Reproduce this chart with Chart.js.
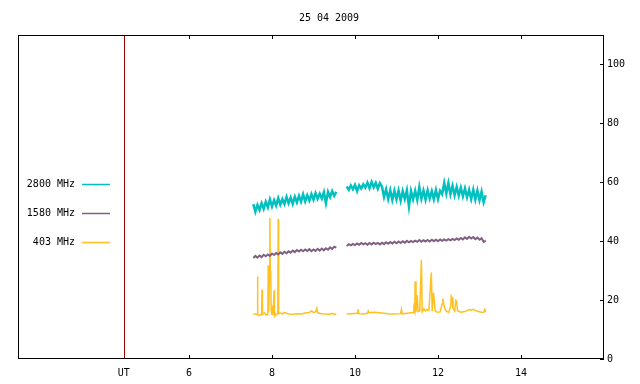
<!DOCTYPE html>
<html>
<head>
<meta charset="utf-8">
<script src="https://cdn.jsdelivr.net/npm/chart.js@4.4.0/dist/chart.umd.min.js"></script>
<style>
  html, body { margin: 0; padding: 0; background: #fff; }
</style>
</head>
<body>
<canvas id="radioChart" width="640" height="384"></canvas>
<script>
// 25 Apr 2009 solar radio flux, three frequencies (UT hours)
const chartTitle = '25 04 2009';
const utMark = 4.43;
const xTicks = [6, 8, 10, 12, 14];
const yTicks = [0, 20, 40, 60, 80, 100];

const timesA = [7.55, 7.60, 7.65, 7.70, 7.75, 7.80, 7.85, 7.90, 7.95, 8.00,
  8.05, 8.10, 8.15, 8.20, 8.25, 8.30, 8.35, 8.40, 8.45, 8.50,
  8.55, 8.60, 8.65, 8.70, 8.75, 8.80, 8.85, 8.90, 8.95, 9.00,
  9.05, 9.10, 9.15, 9.20, 9.25, 9.30, 9.35, 9.40, 9.45, 9.50,
  9.55];
const timesB = [9.80, 9.85, 9.90, 9.95, 10.00, 10.05, 10.10, 10.15, 10.20, 10.25,
  10.30, 10.35, 10.40, 10.45, 10.50, 10.55, 10.60, 10.65, 10.70, 10.75,
  10.80, 10.85, 10.90, 10.95, 11.00, 11.05, 11.10, 11.15, 11.20, 11.25,
  11.30, 11.35, 11.40, 11.45, 11.50, 11.55, 11.60, 11.65, 11.70, 11.75,
  11.80, 11.85, 11.90, 11.95, 12.00, 12.05, 12.10, 12.15, 12.20, 12.25,
  12.30, 12.35, 12.40, 12.45, 12.50, 12.55, 12.60, 12.65, 12.70, 12.75,
  12.80, 12.85, 12.90, 12.95, 13.00, 13.05, 13.10, 13.15];

const flux2800A = [52.6, 50.0, 52.3, 50.6, 52.9, 51.0, 53.4, 51.5, 54.2, 51.8,
  53.9, 52.1, 54.6, 52.4, 54.3, 52.6, 55.0, 52.9, 54.8, 52.7,
  55.1, 53.2, 55.4, 53.4, 55.9, 53.5, 55.6, 53.8, 56.0, 54.1,
  56.3, 54.4, 56.1, 54.5, 56.6, 52.9, 56.7, 55.0, 57.0, 55.4,
  56.8];
const flux2800B = [58.6, 57.4, 58.9, 57.6, 59.1, 57.0, 59.0, 57.9, 59.3, 58.2,
  59.9, 58.0, 60.1, 58.3, 59.8, 57.8, 59.7, 58.6, 55.0, 57.6,
  54.3, 57.3, 54.0, 57.1, 54.2, 57.2, 53.8, 57.0, 54.3, 57.3,
  51.8, 57.0, 54.2, 57.1, 54.0, 58.4, 54.4, 57.2, 54.1, 57.3,
  54.5, 57.0, 54.2, 57.4, 54.3, 57.1, 56.0, 59.8, 56.2, 59.7,
  55.9, 58.8, 55.6, 58.4, 55.5, 58.2, 55.2, 57.9, 54.9, 57.4,
  54.3, 57.5, 54.1, 57.2, 53.9, 56.8, 53.2, 55.6];

const flux1580A = [34.3, 35.0, 34.4, 35.1, 34.6, 35.4, 34.9, 35.5, 35.0, 35.8,
  35.3, 36.0, 35.5, 36.2, 35.7, 36.4, 35.9, 36.6, 36.1, 36.8,
  36.3, 37.0, 36.5, 37.1, 36.6, 37.2, 36.7, 37.3, 36.6, 37.2,
  36.7, 37.4, 36.8, 37.5, 36.9, 37.6, 37.1, 37.9, 37.4, 38.1,
  37.8];
const flux1580B = [38.4, 39.0, 38.6, 39.1, 38.7, 39.2, 38.8, 39.4, 38.9, 39.3,
  38.8, 39.4, 38.9, 39.5, 39.0, 39.4, 38.9, 39.5, 39.0, 39.6,
  39.1, 39.7, 39.2, 39.8, 39.3, 39.9, 39.4, 40.0, 39.5, 40.1,
  39.6, 40.1, 39.7, 40.2, 39.8, 40.4, 39.8, 40.3, 39.9, 40.4,
  39.9, 40.5, 40.0, 40.5, 40.0, 40.6, 40.1, 40.6, 40.2, 40.7,
  40.3, 40.8, 40.4, 40.9, 40.5, 41.1, 40.6, 41.3, 40.8, 41.5,
  40.9, 41.4, 40.7, 41.2, 40.5, 41.0, 39.8, 40.2];

// 403 MHz is spiky, so it has its own sample times (null = data gap)
const times403 = [7.55, 7.62, 7.64, 7.65, 7.66, 7.70, 7.75, 7.76, 7.77, 7.82,
  7.86, 7.90, 7.91, 7.92, 7.94, 7.95, 7.96, 7.97, 7.98, 8.00,
  8.02, 8.03, 8.05, 8.06, 8.10, 8.14, 8.15, 8.16, 8.20, 8.25,
  8.30, 8.35, 8.40, 8.50, 8.60, 8.70, 8.80, 8.90, 8.95, 9.00,
  9.05, 9.08, 9.10, 9.20, 9.30, 9.40, 9.45, 9.50, 9.55, 9.70,
  9.80, 9.90, 10.05, 10.07, 10.09, 10.20, 10.30, 10.32, 10.34, 10.45,
  10.60, 10.80, 10.95, 11.10, 11.12, 11.14, 11.30, 11.40, 11.42, 11.44,
  11.45, 11.47, 11.50, 11.52, 11.56, 11.60, 11.62, 11.66, 11.70, 11.74,
  11.78, 11.84, 11.86, 11.89, 11.91, 11.93, 11.98, 12.05, 12.10, 12.12,
  12.14, 12.16, 12.20, 12.26, 12.31, 12.32, 12.34, 12.36, 12.40, 12.43,
  12.45, 12.47, 12.55, 12.65, 12.72, 12.75, 12.80, 12.85, 12.90, 12.95,
  13.05, 13.10, 13.13, 13.15];
const flux403 = [15.3, 15.2, 15.0, 28.0, 15.0, 14.8, 15.1, 23.6, 15.2, 15.6,
  15.0, 15.1, 31.8, 16.0, 29.8, 47.9, 30.0, 29.5, 16.5, 15.0,
  18.2, 15.1, 23.3, 14.5, 15.2, 15.3, 47.5, 15.4, 15.6, 15.3,
  15.8, 15.5, 15.3, 15.2, 15.4, 15.3, 15.6, 15.8, 16.3, 15.8,
  16.0, 17.2, 15.7, 15.4, 15.3, 15.2, 15.5, 15.2, 15.3, null,
  15.3, 15.4, 15.5, 16.9, 15.4, 15.3, 15.5, 16.3, 15.7, 15.9,
  15.7, 15.4, 15.3, 15.4, 16.9, 15.3, 15.6, 15.8, 17.3, 16.2,
  26.4, 16.0, 21.6, 16.1, 16.4, 33.7, 16.0, 17.0, 16.3, 16.8,
  16.5, 29.4, 16.2, 22.5, 19.9, 16.4, 15.9, 16.0, 18.8, 20.5,
  18.6, 17.4, 16.2, 15.9, 18.2, 21.3, 20.8, 17.2, 16.3, 19.9,
  19.6, 16.4, 15.9, 16.1, 16.5, 16.8, 16.6, 16.9, 16.5, 16.2,
  15.9, 15.8, 16.8, 15.9];

const monoFont = { family: 'DejaVu Sans Mono', size: 10, weight: 'normal' };

function toPoints(ta, va, tb, vb) {
  const pts = ta.map((t, i) => ({ x: t, y: va[i] }));
  pts.push({ x: 9.7, y: null });
  return pts.concat(tb.map((t, i) => ({ x: t, y: vb[i] })));
}

const framePlugin = {
  id: 'frame',
  beforeDatasetsDraw(chart) {
    const { ctx, chartArea: a, scales: { x } } = chart;
    const ux = Math.round(x.getPixelForValue(utMark)) + 0.5;
    ctx.save();
    ctx.strokeStyle = '#a00000';
    ctx.lineWidth = 1;
    ctx.beginPath();
    ctx.moveTo(ux, a.top);
    ctx.lineTo(ux, a.bottom);
    ctx.stroke();
    ctx.restore();
  },
  afterDraw(chart) {
    const { ctx, chartArea: a, scales: { x, y } } = chart;
    ctx.save();
    ctx.strokeStyle = '#000';
    ctx.lineWidth = 1;
    ctx.strokeRect(a.left + 0.5, a.top + 0.5, a.width - 1, a.height - 1);

    // inward tick marks, gnuplot style
    ctx.beginPath();
    xTicks.forEach(v => {
      const px = Math.round(x.getPixelForValue(v)) + 0.5;
      ctx.moveTo(px, a.bottom); ctx.lineTo(px, a.bottom - 4);
      ctx.moveTo(px, a.top); ctx.lineTo(px, a.top + 4);
    });
    yTicks.forEach(v => {
      const py = Math.round(y.getPixelForValue(v)) + 0.5;
      ctx.moveTo(a.right, py); ctx.lineTo(a.right - 4, py);
    });
    ctx.stroke();

    // legend on the left
    ctx.font = '10px "DejaVu Sans Mono"';
    ctx.textAlign = 'right';
    ctx.textBaseline = 'middle';
    chart.data.datasets.forEach((ds, i) => {
      const ly = 184 + 29 * i;
      ctx.fillStyle = '#000';
      ctx.fillText(ds.label, 75, ly);
      ctx.strokeStyle = ds.borderColor;
      ctx.lineWidth = 1.5;
      ctx.beginPath();
      ctx.moveTo(82, ly + 0.5);
      ctx.lineTo(110, ly + 0.5);
      ctx.stroke();
    });
    ctx.restore();
  }
};

const ctx = document.getElementById('radioChart').getContext('2d');
new Chart(ctx, {
  type: 'line',
  data: {
    datasets: [
      {
        label: '2800 MHz',
        data: toPoints(timesA, flux2800A, timesB, flux2800B),
        borderColor: '#00c0c0',
        borderWidth: 2.5,
        pointRadius: 0,
        tension: 0,
        spanGaps: false
      },
      {
        label: '1580 MHz',
        data: toPoints(timesA, flux1580A, timesB, flux1580B),
        borderColor: '#806080',
        borderWidth: 2,
        pointRadius: 0,
        tension: 0,
        spanGaps: false
      },
      {
        label: '403 MHz',
        data: times403.map((t, i) => ({ x: t, y: flux403[i] })),
        borderColor: '#ffc020',
        borderWidth: 1.5,
        pointRadius: 0,
        tension: 0,
        spanGaps: false
      }
    ]
  },
  options: {
    responsive: false,
    animation: false,
    devicePixelRatio: 1,
    layout: { padding: { left: 18, top: 0, right: 0, bottom: 0 } },
    plugins: {
      legend: { display: false },
      tooltip: { enabled: false },
      title: {
        display: true,
        text: chartTitle,
        color: '#000',
        font: monoFont,
        padding: { top: 12, bottom: 11 }
      }
    },
    scales: {
      x: {
        type: 'linear',
        position: 'bottom',
        min: 1.88,
        max: 16,
        grid: { display: false, drawTicks: false, tickLength: 0 },
        border: { display: false },
        afterBuildTicks: s => { s.ticks = [utMark, ...xTicks].map(v => ({ value: v })); },
        afterFit: s => { s.height = 25; },
        ticks: {
          color: '#000',
          font: monoFont,
          padding: 8,
          maxRotation: 0,
          autoSkip: false,
          callback: v => (v === utMark ? 'UT' : String(v))
        }
      },
      y: {
        position: 'right',
        min: 0,
        max: 110,
        grid: { display: false, drawTicks: false, tickLength: 0 },
        border: { display: false },
        afterBuildTicks: s => { s.ticks = yTicks.map(v => ({ value: v })); },
        afterFit: s => { s.width = 36; },
        ticks: {
          color: '#000',
          font: monoFont,
          padding: 3
        }
      }
    }
  },
  plugins: [framePlugin]
});
</script>
</body>
</html>
